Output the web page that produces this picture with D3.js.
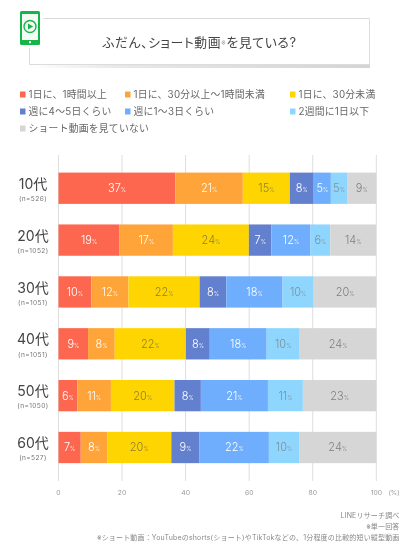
<!DOCTYPE html>
<html><head><meta charset="utf-8">
<script src="https://cdn.jsdelivr.net/npm/d3@7/dist/d3.min.js"></script>
<style>html,body{margin:0;padding:0;background:#fff}svg{display:block}text{font-family:Inter,"Noto Sans CJK JP","Noto Sans",sans-serif;font-weight:400}</style>
</head><body><div id="c"></div>
<script>
const categories=["10代","20代","30代","40代","50代","60代"];
const sampleSizes=["(n=526)","(n=1052)","(n=1051)","(n=1051)","(n=1050)","(n=527)"];
const seriesNames=["1日に、1時間以上","1日に、30分以上～1時間未満","1日に、30分未満","週に4～5日くらい","週に1～3日くらい","2週間に1日以下","ショート動画を見ていない"];
const colors=["#fd6650","#fea438","#fed500","#6480ce","#6eaefc","#8fd6fe","#d6d6d6"];
const labelColors=["#fff","#fff","#8a7f3a","#fff","#fff","#7d8f9a","#808080"];
const row10=[36.8,21.2,14.8,7.5,5.4,5.1,9.2];
const row20=[19.2,16.8,23.9,7.1,12.3,6.2,14.4];
const row30=[10.3,11.7,22.4,8.4,17.7,9.8,19.7];
const row40=[9.3,8.4,22.4,7.5,17.9,10.4,24.1];
const row50=[5.9,10.6,20,8.3,21.1,11,23.1];
const row60=[7,8.3,20.2,8.9,21.8,9.5,24.3];
const rows=[row10,row20,row30,row40,row50,row60];
const ticks=[0,20,40,60,80,100];
const titleText="ふだん、ショート動画";
const titleText2="を見ている?";
const sources=["LINEリサーチ調べ","※単一回答","※ショート動画：YouTubeのshorts(ショート)やTikTokなどの、1分程度の比較的短い縦型動画"];

const W=412,H=553;
const svg=d3.select("#c").append("svg").attr("width",W).attr("height",H);
const defs=svg.append("defs");
const blur=defs.append("filter").attr("id","soft").attr("x","-5%").attr("y","-5%").attr("width","110%").attr("height","110%");
blur.append("feGaussianBlur").attr("stdDeviation",0.4);
const root=svg.append("g").attr("filter","url(#soft)");

// Title box
const lg=defs.append("linearGradient").attr("id","sh").attr("x1",0).attr("x2",1);
lg.append("stop").attr("offset",0).attr("stop-color","#fff");
lg.append("stop").attr("offset",0.25).attr("stop-color","#e8e8e8");
lg.append("stop").attr("offset",1).attr("stop-color","#d4d4d4");
root.append("rect").attr("x",29).attr("y",64).attr("width",341).attr("height",4).attr("fill","url(#sh)");
root.append("path").attr("d",d3.line()([[43,18.5],[369.5,18.5],[369.5,64.5],[29.5,64.5],[29.5,48]])).attr("fill","none").attr("stroke","#dcdcdc").attr("stroke-width",1);
// Phone icon
root.append("rect").attr("x",20).attr("y",11).attr("width",20).attr("height",34).attr("rx",1.5).attr("fill","#19b54a");
root.append("rect").attr("x",22).attr("y",14).attr("width",16).attr("height",26).attr("fill","#f4fbf5");
root.append("circle").attr("cx",30).attr("cy",26.5).attr("r",6).attr("fill","none").attr("stroke","#19b54a").attr("stroke-width",1.4);
root.append("path").attr("d",d3.line()([[28,23.5],[33.2,26.5],[28,29.5]])+"Z").attr("fill","#19b54a");
root.append("rect").attr("x",29).attr("y",41.2).attr("width",2).attr("height",2).attr("fill","#fff");
const tt=root.append("text").attr("x",199.5).attr("y",47.3).attr("text-anchor","middle").attr("font-size",12.8).attr("fill","#444").style("font-feature-settings",'"palt"').style("letter-spacing","0.6px");
tt.append("tspan").text(titleText);
tt.append("tspan").text("※").attr("font-size",7.5).attr("fill","#aaa").attr("dy",-2);
tt.append("tspan").text(titleText2).attr("dy",2);

// Legend
const legendPos=[[20,94.5],[125,94.5],[290,94.5],[20,111.5],[125,111.5],[290,111.5],[20,128.5]];
const lgd=root.append("g").selectAll("g").data(seriesNames).join("g").attr("transform",(d,i)=>`translate(${legendPos[i]})`);
lgd.append("rect").attr("x",0).attr("y",-3).attr("width",5.5).attr("height",6).attr("fill",(d,i)=>colors[i]);
lgd.append("text").attr("x",8.5).attr("y",3.6).attr("font-size",9.8).attr("fill","#666").style("letter-spacing","0.25px").text(d=>d);

// Chart
const x=d3.scaleLinear().domain([0,100]).range([58.5,376.3]);
const yStep=51.85, bh=31.3;
const yPos=c=>172.6+categories.indexOf(c)*yStep;

root.append("g").selectAll("line").data(ticks).join("line")
 .attr("x1",d=>x(d)).attr("x2",d=>x(d)).attr("y1",155).attr("y2",481).attr("stroke","#dedede").attr("stroke-width",1);
root.append("g").selectAll("text").data(ticks).join("text")
 .attr("x",d=>x(d)).attr("y",495).attr("text-anchor","middle").attr("font-size",6.8).attr("fill","#999").text(d=>d);
root.append("text").attr("x",394).attr("y",495).attr("text-anchor","middle").attr("font-size",6.5).attr("fill","#999").text("(%)");

const rowG=root.append("g").selectAll("g").data(categories).join("g").attr("transform",c=>`translate(0,${yPos(c)})`);
rowG.each(function(c,ri){
  const g=d3.select(this);
  const stack=d3.cumsum(rows[ri]);
  const segs=rows[ri].map((v,i)=>({v,i,x0:i?stack[i-1]:0,x1:stack[i]}));
  g.selectAll("rect").data(segs).join("rect")
    .attr("x",d=>x(d.x0)).attr("width",d=>x(Math.min(d.x1,100))-x(d.x0)).attr("y",0).attr("height",bh).attr("fill",d=>colors[d.i]);
  const t=g.selectAll("text").data(segs).join("text")
    .attr("x",d=>x((d.x0+Math.min(d.x1,100))/2)).attr("y",bh/2+4).attr("text-anchor","middle")
    .attr("fill",d=>labelColors[d.i]).attr("font-size",11).style("font-weight",300);
  t.append("tspan").text(d=>Math.round(d.v));
  t.append("tspan").text("%").attr("font-size",5.5);
  g.append("text").attr("x",33).attr("y",bh/2+0.6).attr("text-anchor","middle").attr("font-size",14).attr("fill","#444").text(c);
  g.append("text").attr("x",33).attr("y",bh/2+12.8).attr("text-anchor","middle").attr("font-size",6.6).attr("fill","#777").style("letter-spacing","0.4px").text(sampleSizes[ri]);
});

// Footer
root.append("g").selectAll("text").data(sources).join("text")
 .attr("x",399.5).attr("y",(d,i)=>517.5+i*11.3).attr("text-anchor","end").attr("font-size",7).attr("fill","#888").style("letter-spacing","0.17px").text(d=>d);
</script></body></html>
